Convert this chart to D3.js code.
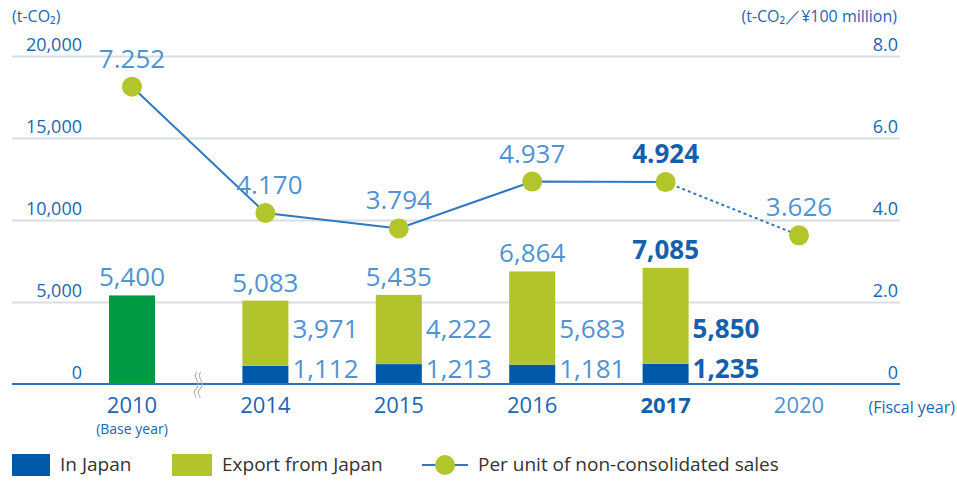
<!DOCTYPE html>
<html>
<head>
<meta charset="utf-8">
<script src="https://cdn.jsdelivr.net/npm/d3@7"></script>
<style>
  body { margin: 0; background: #fff; }
  text { font-family: "Open Sans", sans-serif; }
</style>
</head>
<body>
<script>
// data
var years = ["2010", "2014", "2015", "2016", "2017", "2020"];
var inJapan = [null, 1112, 1213, 1181, 1235, null];
var exportJapan = [null, 3971, 4222, 5683, 5850, null];
var totals = [5400, 5083, 5435, 6864, 7085, null];
var perUnit = [7.252, 4.170, 3.794, 4.937, 4.924, 3.626];
var leftTicks = [0, 5000, 10000, 15000, 20000];
var rightTicks = [0, 2, 4, 6, 8];

var width = 957, height = 488;
var lightBlue = "#4f93d3", axisBlue = "#1c66b3", boldBlue = "#1560ad";

var svg = d3.select("body").append("svg")
  .attr("width", width)
  .attr("height", height);

var x = d3.scalePoint().domain(years).range([132, 799]);
var yL = d3.scaleLinear().domain([0, 20000]).range([384, 56]);
var yR = d3.scaleLinear().domain([0, 8]).range([384, 56]);
var barW = 46;

// gridlines + left labels
var gl = svg.append("g")
  .attr("transform", "translate(12,0)")
  .call(d3.axisLeft(yL).tickValues(leftTicks).tickSize(-888).tickFormat(d3.format(",")));
gl.select(".domain").remove();
gl.selectAll(".tick line").attr("stroke", "#d9dde2").attr("stroke-width", 2)
  .attr("opacity", function(d) { return d === 0 ? 0 : 1; });
gl.selectAll(".tick text")
  .attr("x", 70).attr("dy", -6).attr("text-anchor", "end")
  .attr("fill", axisBlue).attr("font-size", "18px").style("font-family", "Open Sans");

// right labels
var gr = svg.append("g")
  .attr("transform", "translate(898,0)")
  .call(d3.axisRight(yR).tickValues(rightTicks).tickSize(0)
    .tickFormat(function(d) { return d === 0 ? "0" : d3.format(".1f")(d); }));
gr.select(".domain").remove();
gr.selectAll(".tick text")
  .attr("x", 0).attr("dy", -6).attr("text-anchor", "end")
  .attr("fill", axisBlue).attr("font-size", "18px").style("font-family", "Open Sans");

// unit labels
svg.append("text").attr("x", 12).attr("y", 22).attr("fill", axisBlue)
  .attr("font-size", "16px").text("(t-CO₂)");
svg.append("text").attr("x", 897).attr("y", 22).attr("fill", axisBlue)
  .attr("text-anchor", "end").attr("font-size", "16px").text("(t-CO₂／¥100 million)");

// bars
var idx = d3.range(years.length);
svg.selectAll("rect.base")
  .data(idx.filter(function(i) { return inJapan[i] === null && totals[i] !== null; }))
  .enter().append("rect")
  .attr("x", function(i) { return x(years[i]) - barW / 2; })
  .attr("y", function(i) { return yL(totals[i]); })
  .attr("width", barW)
  .attr("height", function(i) { return yL(0) - yL(totals[i]); })
  .attr("fill", "#009a44");

var stacked = idx.filter(function(i) { return inJapan[i] !== null; });
svg.selectAll("rect.jp")
  .data(stacked).enter().append("rect")
  .attr("x", function(i) { return x(years[i]) - barW / 2; })
  .attr("y", function(i) { return yL(inJapan[i]); })
  .attr("width", barW)
  .attr("height", function(i) { return yL(0) - yL(inJapan[i]); })
  .attr("fill", "#0058a8");
svg.selectAll("rect.ex")
  .data(stacked).enter().append("rect")
  .attr("x", function(i) { return x(years[i]) - barW / 2; })
  .attr("y", function(i) { return yL(inJapan[i] + exportJapan[i]); })
  .attr("width", barW)
  .attr("height", function(i) { return yL(inJapan[i]) - yL(inJapan[i] + exportJapan[i]); })
  .attr("fill", "#b1c42b");

// baseline
svg.append("line").attr("x1", 12).attr("x2", 900)
  .attr("y1", yL(0)).attr("y2", yL(0))
  .attr("stroke", "#2a72bd").attr("stroke-width", 2);

// axis break
svg.append("path")
  .attr("d", "M197,372 C191,377 203,383 196,389 C191,393 197,396 196,398 M201,372 C195,377 207,383 200,389 C195,393 201,396 200,398")
  .attr("fill", "none").attr("stroke", "#b8b8b8").attr("stroke-width", 1.2);

// bar labels
function isBold(i) { return years[i] === "2017"; }
svg.selectAll("text.total")
  .data(idx.filter(function(i) { return totals[i] !== null; }))
  .enter().append("text")
  .attr("x", function(i) { return x(years[i]); })
  .attr("y", function(i) { return yL(totals[i]) - 9; })
  .attr("text-anchor", "middle")
  .attr("font-size", "26px")
  .attr("font-weight", function(i) { return isBold(i) ? 700 : 400; })
  .attr("fill", function(i) { return isBold(i) ? boldBlue : lightBlue; })
  .text(function(i) { return d3.format(",")(totals[i]); });

svg.selectAll("text.ex")
  .data(stacked).enter().append("text")
  .attr("x", function(i) { return x(years[i]) + barW / 2 + 4; })
  .attr("y", yL(2800))
  .attr("font-size", "26px")
  .attr("font-weight", function(i) { return isBold(i) ? 700 : 400; })
  .attr("fill", function(i) { return isBold(i) ? boldBlue : lightBlue; })
  .text(function(i) { return d3.format(",")(exportJapan[i]); });

svg.selectAll("text.jp")
  .data(stacked).enter().append("text")
  .attr("x", function(i) { return x(years[i]) + barW / 2 + 4; })
  .attr("y", yL(0) - 6)
  .attr("font-size", "26px")
  .attr("font-weight", function(i) { return isBold(i) ? 700 : 400; })
  .attr("fill", function(i) { return isBold(i) ? boldBlue : lightBlue; })
  .text(function(i) { return d3.format(",")(inJapan[i]); });

// per-unit line
var line = d3.line()
  .x(function(i) { return x(years[i]); })
  .y(function(i) { return yR(perUnit[i]); });
svg.append("path").datum([0, 1, 2, 3, 4])
  .attr("d", line).attr("fill", "none")
  .attr("stroke", "#2f78c2").attr("stroke-width", 2);
svg.append("path").datum([4, 5])
  .attr("d", line).attr("fill", "none")
  .attr("stroke", "#2f78c2").attr("stroke-width", 2)
  .attr("stroke-dasharray", "3,3");
svg.selectAll("circle.pt")
  .data(idx).enter().append("circle")
  .attr("cx", function(i) { return x(years[i]); })
  .attr("cy", function(i) { return yR(perUnit[i]); })
  .attr("r", 10)
  .attr("fill", "#b2c52b");
svg.selectAll("text.pu")
  .data(idx).enter().append("text")
  .attr("x", function(i) { return x(years[i]) + (i === 1 ? 4 : 0); })
  .attr("y", function(i) { return yR(perUnit[i]) - 19; })
  .attr("text-anchor", "middle")
  .attr("font-size", "26px")
  .attr("font-weight", function(i) { return isBold(i) ? 700 : 400; })
  .attr("fill", function(i) { return isBold(i) ? boldBlue : lightBlue; })
  .text(function(i) { return d3.format(".3f")(perUnit[i]); });

// year labels
svg.selectAll("text.year")
  .data(idx).enter().append("text")
  .attr("x", function(i) { return x(years[i]); })
  .attr("y", 413)
  .attr("text-anchor", "middle")
  .attr("font-size", "22px")
  .attr("font-weight", function(i) { return isBold(i) ? 700 : 400; })
  .attr("fill", function(i) { return years[i] === "2020" ? lightBlue : (isBold(i) ? boldBlue : axisBlue); })
  .text(function(i) { return years[i]; });
svg.append("text").attr("x", x("2010")).attr("y", 434)
  .attr("text-anchor", "middle").attr("font-size", "14px").attr("fill", axisBlue)
  .text("(Base year)");
svg.append("text").attr("x", 955).attr("y", 413)
  .attr("text-anchor", "end").attr("font-size", "16px").attr("fill", axisBlue)
  .text("(Fiscal year)");

// legend
var lg = svg.append("g").attr("transform", "translate(0,465)");
lg.append("rect").attr("x", 12).attr("y", -11).attr("width", 38).attr("height", 22).attr("fill", "#0058a8");
lg.append("text").attr("x", 60).attr("y", 6).attr("font-size", "19px").attr("fill", "#333")
  .text("In Japan");
lg.append("rect").attr("x", 172).attr("y", -11).attr("width", 40).attr("height", 22).attr("fill", "#b1c42b");
lg.append("text").attr("x", 222).attr("y", 6).attr("font-size", "19px").attr("fill", "#333")
  .text("Export from Japan");
lg.append("line").attr("x1", 422).attr("x2", 468).attr("y1", 0).attr("y2", 0)
  .attr("stroke", "#2f78c2").attr("stroke-width", 2);
lg.append("circle").attr("cx", 445).attr("cy", 0).attr("r", 10).attr("fill", "#b2c52b");
lg.append("text").attr("x", 478).attr("y", 6).attr("font-size", "19px").attr("fill", "#333")
  .text("Per unit of non-consolidated sales");
</script>
</body>
</html>
